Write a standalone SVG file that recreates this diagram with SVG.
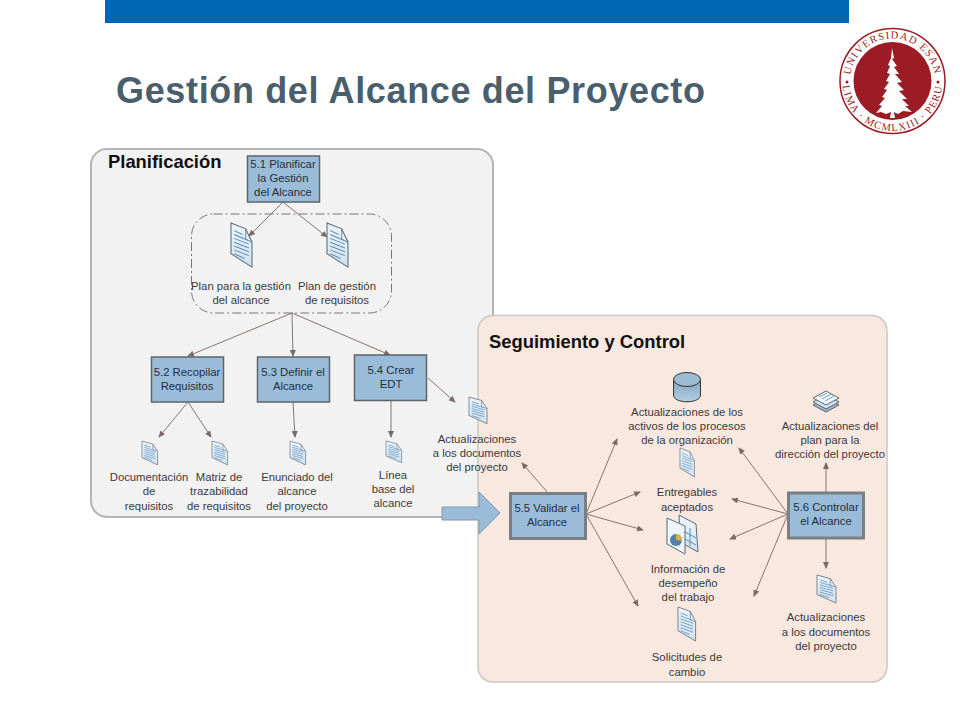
<svg xmlns="http://www.w3.org/2000/svg" width="960" height="720" viewBox="0 0 960 720">
<style>
text{font-family:"Liberation Sans",Arial,sans-serif;fill:#3a3a3a;font-size:11.3px;text-anchor:middle}
.t{fill:#1f2f3c}
.h{font-weight:bold;font-size:18.4px;fill:#111;text-anchor:start}
.box{fill:#9bbcd9;stroke:#5f6468;stroke-width:1.5}
.box2{fill:#9bbcd9;stroke:#7a7f82;stroke-width:3}
.c{stroke:#85756f;stroke-width:1;fill:none;marker-end:url(#a)}
.lg{font-family:"Liberation Serif",serif;font-size:10.5px;fill:#9b1c24;text-anchor:middle;letter-spacing:1.2px}
</style>
<defs>
<marker id="a" markerWidth="8" markerHeight="8" refX="6" refY="3" orient="auto" markerUnits="userSpaceOnUse"><path d="M0,0L7,3L0,6Z" fill="#7a6a66"/></marker>
<linearGradient id="g" x1="0" y1="0" x2="0" y2="1"><stop offset="0" stop-color="#eef5fa"/><stop offset="1" stop-color="#cfe2f0"/></linearGradient>
<linearGradient id="cy" x1="0" y1="0" x2="0" y2="1"><stop offset="0" stop-color="#7fa2c0"/><stop offset="1" stop-color="#b4cee2"/></linearGradient>
<g id="doc">
<path d="M0,0L14,6L20,20V46L0,32Z" fill="url(#g)" stroke="#5d6a75" stroke-width="1"/>
<path d="M14,6L14,17L20,20" fill="none" stroke="#5d6a75" stroke-width=".8"/>
<path d="M3,8L11,12M3,12L16,18M3,16L17,22M3,20L17,26M3,24L17,30M3,28L17,34M3,32L13,37" stroke="#5b8db8" stroke-width="1"/>
</g>
</defs>
<rect width="960" height="720" fill="#fff"/>
<rect x="105" y="0" width="744" height="23" fill="#0067b5"/>
<text x="116" y="103" style="font-size:36px;font-weight:bold;fill:#4a5f6e;text-anchor:start;letter-spacing:.65px">Gestión del Alcance del Proyecto</text>
<g id="logo">
<circle cx="892.500" cy="81" r="52.500" fill="#fff" stroke="#9b1c24" stroke-width="1.500"/>
<circle cx="892.500" cy="81" r="39" fill="#9b1c24"/>
<path id="arcT" d="M850,81A42.500,42.500 0 0 1 935,81" fill="none"/>
<path id="arcB" d="M842.500,81A50,50 0 0 0 942.500,81" fill="none"/>
<text class="lg"><textPath href="#arcT" startOffset="50%">UNIVERSIDAD ESAN</textPath></text>
<text class="lg"><textPath href="#arcB" startOffset="50%">LIMA · MCMLXIII · PERU</textPath></text>
<circle cx="847" cy="82" r="1.500" fill="#9b1c24"/>
<circle cx="938" cy="82" r="1.500" fill="#9b1c24"/>
<path fill="#fff" d="M892,48L894,58L892,59L897,66L894,67L899,74L895,74L902,82L897,83L904,90L899,91L907,99L902,99L909,106L905,106L912,112L903,111L898,114L894,112L895,118H890L891,112L886,114L881,112L876,113L882,106L879,105L885,98L882,97L887,90L884,89L889,82L886,81L890,74L887,73L890,66L888,65L891,58Z"/>
</g>
<g id="planificacion">
<rect x="91" y="149" width="402" height="368" rx="16" fill="#f2f2f2" stroke="#b5b5b5" stroke-width="2"/>
<text class="h" x="108" y="168">Planificación</text>
</g>
<g id="seguimiento">
<rect x="478" y="315.500" width="409" height="366.500" rx="15" fill="#f8e8df" stroke="#c9c9c1" stroke-width="1.500"/>
<text class="h" x="489" y="348">Seguimiento y Control</text>
</g>
<rect id="grupo-planes" x="191.500" y="214" width="200" height="99" rx="22" fill="none" stroke="#77777a" stroke-width="1" stroke-dasharray="9 3 2 3"/>
<g id="connectors">
<path class="c" d="M283,202L249,236"/>
<path class="c" d="M283,202L327,237"/>
<path class="c" d="M292,313L188,356"/>
<path class="c" d="M292,313L293,356"/>
<path class="c" d="M292,313L390,355"/>
<path class="c" d="M188,402L159,437"/>
<path class="c" d="M188,402L211,437"/>
<path class="c" d="M293,402L295,437"/>
<path class="c" d="M391,401V437"/>
<path class="c" d="M428,378L455,402"/>
<path class="c" d="M548,493L522,463"/>
<path class="c" d="M586,514L617,439"/>
<path class="c" d="M586,514L640,492"/>
<path class="c" d="M586,514L643,530"/>
<path class="c" d="M586,514L638,606"/>
<path class="c" d="M788,514L739,448"/>
<path class="c" d="M788,514L732,499"/>
<path class="c" d="M788,514L730,539"/>
<path class="c" d="M788,514L754,596"/>
<path class="c" d="M826,492V463"/>
<path class="c" d="M826,538V568"/>
</g>
<g id="n51"><rect class="box" x="247.500" y="156" width="72" height="46"/><text class="t" x="283" y="168">5.1 Planificar</text><text class="t" x="283" y="182">la Gestión</text><text class="t" x="283" y="196">del Alcance</text></g>
<g id="d-plan-alcance"><use href="#doc" transform="translate(231,223) scale(1.05,.96)"/><text x="241" y="290">Plan para la gestión</text><text x="241" y="304">del alcance</text></g>
<g id="d-plan-req"><use href="#doc" transform="translate(327,223) scale(1.05,.96)"/><text x="337" y="290">Plan de gestión</text><text x="337" y="304">de requisitos</text></g>
<g id="n52"><rect class="box" x="151.500" y="357" width="72" height="45"/><text class="t" x="187" y="376">5.2 Recopilar</text><text class="t" x="187" y="390">Requisitos</text></g>
<g id="n53"><rect class="box" x="257.500" y="357" width="72" height="45"/><text class="t" x="293" y="376">5.3 Definir el</text><text class="t" x="293" y="390">Alcance</text></g>
<g id="n54"><rect class="box" x="354.500" y="355" width="72" height="45.500"/><text class="t" x="391" y="374">5.4 Crear</text><text class="t" x="391" y="388">EDT</text></g>
<g id="d-doc-req"><use href="#doc" transform="translate(142,441) scale(.78,.52)"/><text x="149" y="481">Documentación</text><text x="149" y="495">de</text><text x="149" y="510">requisitos</text></g>
<g id="d-matriz"><use href="#doc" transform="translate(212,441) scale(.78,.52)"/><text x="219" y="481">Matriz de</text><text x="219" y="495">trazabilidad</text><text x="219" y="510">de requisitos</text></g>
<g id="d-enunciado"><use href="#doc" transform="translate(290,441) scale(.78,.52)"/><text x="297" y="481">Enunciado del</text><text x="297" y="495">alcance</text><text x="297" y="510">del proyecto</text></g>
<g id="d-linea"><use href="#doc" transform="translate(386,441) scale(.78,.47)"/><text x="393" y="479">Línea</text><text x="393" y="493">base del</text><text x="393" y="507">alcance</text></g>
<g id="d-act-doc1"><use href="#doc" transform="translate(469,397) scale(.9,.58)"/><text x="477" y="443">Actualizaciones</text><text x="477" y="457">a los documentos</text><text x="477" y="471">del proyecto</text></g>
<path id="flecha" d="M442,507H479V492L500,513L479,534V520H442Z" fill="#9bbcd9" stroke="#7f97ad" stroke-width="1"/>
<g id="n55"><rect class="box2" x="510.500" y="493.500" width="75" height="45"/><text class="t" x="547" y="512">5.5 Validar el</text><text class="t" x="547" y="526">Alcance</text></g>
<g id="n56"><rect class="box2" x="788.500" y="493" width="75" height="45"/><text class="t" x="826" y="511">5.6 Controlar</text><text class="t" x="826" y="525">el Alcance</text></g>
<g id="d-activos">
<path d="M673.500,379V395C673.500,404 700.500,404 700.500,395V379Z" fill="url(#cy)" stroke="#333" stroke-width="1"/>
<ellipse cx="687" cy="379.500" rx="13.500" ry="7" fill="#9dbbd4" stroke="#333" stroke-width="1"/>
<text x="687" y="416">Actualizaciones de los</text><text x="687" y="430">activos de los procesos</text><text x="687" y="444">de la organización</text></g>
<g id="d-plan-dir">
<path d="M813,405L826,398L839,405L826,412Z" fill="#9bbcd9" stroke="#444" stroke-width=".8"/>
<path d="M813,402L826,395L839,402L826,409Z" fill="#cfe2f0" stroke="#444" stroke-width=".8"/>
<path d="M813,398L826,391L839,398L826,405Z" fill="#eef5fa" stroke="#444" stroke-width=".8"/>
<path d="M819,397L827,393M822,399L831,394M825,401L834,396" stroke="#5b8db8" stroke-width=".8"/>
<text x="830" y="430">Actualizaciones del</text><text x="830" y="444">plan para la</text><text x="830" y="458">dirección del proyecto</text></g>
<g id="d-entregables"><use href="#doc" transform="translate(680,448) scale(.72,.63)"/><text x="687" y="496">Entregables</text><text x="687" y="511">aceptados</text></g>
<g id="d-info">
<path d="M679,515L696,524L698,552L680,542Z" fill="url(#g)" stroke="#5d6a75"/>
<path d="M685,532L696,538M685,539L696,545M690,528V546" stroke="#5b8db8"/>
<path d="M667,518L685,526V554L667,544Z" fill="#eef5fa" stroke="#5d6a75"/>
<circle cx="676" cy="540" r="6" fill="#4f81b0"/>
<path d="M676,540V534A6,6 0 0 1 682,541Z" fill="#e0b040"/>
<text x="688" y="573">Información de</text><text x="688" y="587">desempeño</text><text x="688" y="601">del trabajo</text></g>
<g id="d-solicitudes"><use href="#doc" transform="translate(678,607) scale(.88,.74)"/><text x="687" y="661">Solicitudes de</text><text x="687" y="676">cambio</text></g>
<g id="d-act-doc2"><use href="#doc" transform="translate(817,575) scale(.95,.61)"/><text x="826" y="621">Actualizaciones</text><text x="826" y="636">a los documentos</text><text x="826" y="650">del proyecto</text></g>
</svg>
